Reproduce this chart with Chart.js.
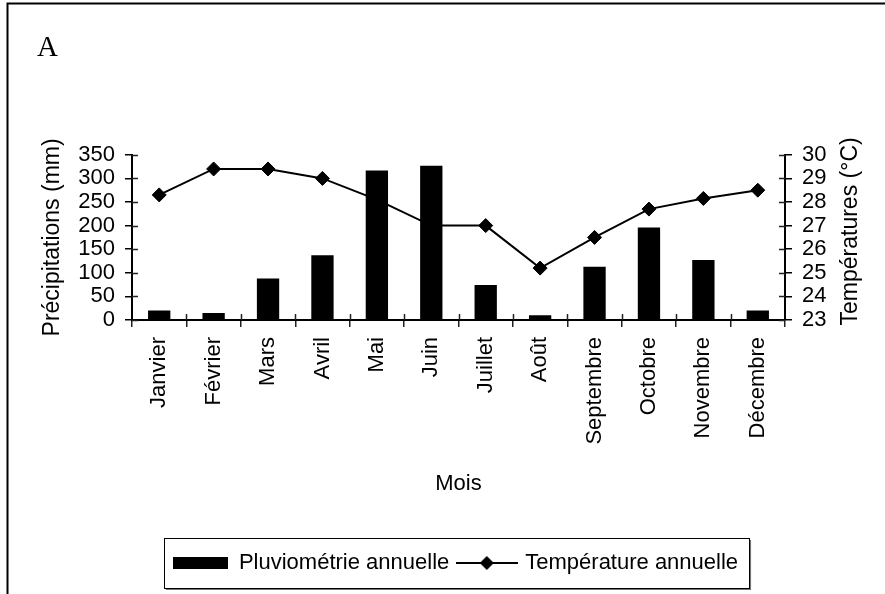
<!DOCTYPE html>
<html>
<head>
<meta charset="utf-8">
<script src="https://cdn.jsdelivr.net/npm/chart.js@4.4.0/dist/chart.umd.min.js"></script>
<style>
  html, body { margin: 0; padding: 0; background: #fff; }
</style>
</head>
<body>
<canvas id="climatGraph" width="885" height="594"></canvas>
<script>
const mois = ['Janvier', 'Février', 'Mars', 'Avril', 'Mai', 'Juin', 'Juillet', 'Août', 'Septembre', 'Octobre', 'Novembre', 'Décembre'];
const pluviometrie = [20, 15, 88, 137, 317, 327, 74, 10, 113, 196, 127, 20];
const temperature = [28.3, 29.4, 29.4, 29.0, 28.1, 27.0, 27.0, 25.2, 26.5, 27.7, 28.15, 28.5];
const pluieTicks = [0, 50, 100, 150, 200, 250, 300, 350];
const tempTicks = [23, 24, 25, 26, 27, 28, 29, 30];

const police = "'Liberation Sans', Arial, sans-serif";
const titreTemp = 'Températures (°C)';

// petits symboles pour la légende
function symbole(w, h, dessin) {
  const c = document.createElement('canvas');
  c.width = w;
  c.height = h;
  dessin(c.getContext('2d'), w, h);
  return c;
}
const symbolePluie = symbole(55, 12, (ctx, w, h) => {
  ctx.fillStyle = '#000';
  ctx.fillRect(0, 0, w, h);
});
const symboleTemp = symbole(62, 16, (ctx, w, h) => {
  ctx.strokeStyle = '#000';
  ctx.lineWidth = 2;
  ctx.beginPath();
  ctx.moveTo(0, h / 2);
  ctx.lineTo(w, h / 2);
  ctx.stroke();
  ctx.fillStyle = '#000';
  ctx.beginPath();
  ctx.moveTo(w / 2, h / 2 - 7);
  ctx.lineTo(w / 2 + 7, h / 2);
  ctx.lineTo(w / 2, h / 2 + 7);
  ctx.lineTo(w / 2 - 7, h / 2);
  ctx.closePath();
  ctx.fill();
});

// fond blanc + cadre
const cadre = {
  id: 'cadre',
  beforeDraw(chart) {
    const ctx = chart.ctx;
    ctx.save();
    ctx.fillStyle = '#fff';
    ctx.fillRect(0, 0, chart.width, chart.height);
    ctx.strokeStyle = '#000';
    ctx.lineWidth = 2;
    ctx.beginPath();
    ctx.moveTo(7.5, chart.height);
    ctx.lineTo(7.5, 3.5);
    ctx.lineTo(chart.width, 3.5);
    ctx.stroke();
    ctx.restore();
  }
};

// graduations qui traversent les axes
const graduations = {
  id: 'graduations',
  afterDatasetsDraw(chart) {
    const {ctx, chartArea, scales} = chart;
    ctx.save();
    ctx.strokeStyle = '#222';
    ctx.lineWidth = 1.5;
    ctx.beginPath();
    for (let i = 1; i < mois.length; i++) {
      const x = Math.round(scales.x.getPixelForValue(i - 0.5)) + 0.5;
      ctx.moveTo(x, chartArea.bottom);
      ctx.lineTo(x, chartArea.bottom - 6);
    }
    pluieTicks.forEach(v => {
      const y = Math.round(scales.y.getPixelForValue(v)) + 0.5;
      ctx.moveTo(chartArea.left, y);
      ctx.lineTo(chartArea.left + 6, y);
    });
    tempTicks.forEach(v => {
      const y = Math.round(scales.yTemp.getPixelForValue(v)) + 0.5;
      ctx.moveTo(chartArea.right, y);
      ctx.lineTo(chartArea.right - 6, y);
    });
    ctx.stroke();
    ctx.restore();
  }
};

// titre de l'axe de droite, lu de bas en haut comme celui de gauche
const titreDroite = {
  id: 'titreDroite',
  afterDraw(chart) {
    const s = chart.scales.yTemp;
    const ctx = chart.ctx;
    ctx.save();
    ctx.translate(s.right - 23, (s.top + s.bottom) / 2 - 6);
    ctx.rotate(-Math.PI / 2);
    ctx.font = '23px ' + police;
    ctx.fillStyle = '#000';
    ctx.textAlign = 'center';
    ctx.textBaseline = 'middle';
    ctx.fillText(titreTemp, 0, 0);
    ctx.restore();
  }
};

// encadré autour de la légende
const cadreLegende = {
  id: 'cadreLegende',
  afterDraw(chart) {
    const boxes = chart.legend.legendHitBoxes;
    if (!boxes || !boxes.length) return;
    const gauche = Math.min(...boxes.map(b => b.left)) - 9;
    const droite = Math.max(...boxes.map(b => b.left + b.width)) + 11;
    const haut = Math.min(...boxes.map(b => b.top)) - 14;
    const bas = Math.max(...boxes.map(b => b.top + b.height)) + 14;
    const ctx = chart.ctx;
    ctx.save();
    ctx.strokeStyle = '#777';
    ctx.lineWidth = 2;
    ctx.beginPath();
    ctx.moveTo(droite + 1, haut + 2);
    ctx.lineTo(droite + 1, bas + 1);
    ctx.lineTo(gauche + 2, bas + 1);
    ctx.stroke();
    ctx.strokeStyle = '#000';
    ctx.lineWidth = 1;
    ctx.strokeRect(Math.round(gauche) + 0.5, Math.round(haut) + 0.5, Math.round(droite - gauche), Math.round(bas - haut));
    ctx.restore();
  }
};

Chart.defaults.color = '#000';
Chart.defaults.font.family = police;

const climatGraph = new Chart(document.getElementById('climatGraph'), {
  data: {
    labels: mois,
    datasets: [{
      type: 'bar',
      label: 'Pluviométrie annuelle',
      data: pluviometrie,
      backgroundColor: '#000',
      borderWidth: 0,
      barPercentage: 0.41,
      categoryPercentage: 1,
      yAxisID: 'y',
      order: 0
    }, {
      type: 'line',
      label: 'Température annuelle',
      data: temperature,
      borderColor: '#000',
      borderWidth: 2,
      pointStyle: 'rectRot',
      pointRadius: 7,
      pointBackgroundColor: '#000',
      pointBorderColor: '#000',
      pointBorderWidth: 1,
      tension: 0,
      yAxisID: 'yTemp',
      order: 1
    }]
  },
  options: {
    responsive: false,
    animation: false,
    devicePixelRatio: 1,
    layout: {
      padding: { top: 20, left: 37, right: 11, bottom: 10 }
    },
    plugins: {
      title: {
        display: true,
        text: 'A',
        align: 'start',
        color: '#000',
        font: { family: "'Liberation Serif', 'Times New Roman', serif", size: 29, weight: 'normal' },
        padding: { top: 11, bottom: 89 }
      },
      legend: {
        position: 'bottom',
        labels: {
          usePointStyle: true,
          pointStyleWidth: 55,
          padding: 10,
          color: '#000',
          font: { size: 22 },
          generateLabels(chart) {
            const items = Chart.defaults.plugins.legend.labels.generateLabels(chart);
            items.forEach(item => {
              item.pointStyle = item.datasetIndex === 0 ? symbolePluie : symboleTemp;
              item.lineWidth = 0;
            });
            return items;
          }
        },
        onClick: function(event) {
          event.native && event.native.stopPropagation();
        }
      },
      tooltip: { enabled: false }
    },
    scales: {
      x: {
        grid: { display: true, offset: true, drawOnChartArea: false, tickLength: 7, color: '#222', lineWidth: 1.5 },
        border: { color: '#000', width: 2 },
        ticks: { minRotation: 90, maxRotation: 90, padding: 10, font: { size: 22 }, color: '#000', autoSkip: false },
        title: { display: true, text: 'Mois', font: { size: 22 }, color: '#000', padding: { top: 4, bottom: 45 } },
        afterFit(scale) { scale.height = 222; }
      },
      y: {
        position: 'left',
        min: pluieTicks[0],
        max: pluieTicks[pluieTicks.length - 1],
        grid: { drawOnChartArea: false, tickLength: 7, color: '#000', lineWidth: 1.5 },
        border: { color: '#000', width: 2 },
        ticks: { stepSize: pluieTicks[1] - pluieTicks[0], autoSkip: false, padding: 10, font: { size: 22 }, color: '#000' },
        title: { display: true, text: 'Précipitations (mm)', font: { size: 23 }, color: '#000', padding: { top: 2, bottom: 0 } },
        afterFit(scale) { scale.width = 95; }
      },
      yTemp: {
        position: 'right',
        min: tempTicks[0],
        max: tempTicks[tempTicks.length - 1],
        grid: { drawOnChartArea: false, tickLength: 7, color: '#000', lineWidth: 1.5 },
        border: { color: '#000', width: 2 },
        ticks: { stepSize: 1, autoSkip: false, padding: 10, font: { size: 22 }, color: '#000' },
        title: { display: false },
        afterFit(scale) { scale.width = 89; }
      }
    }
  },
  plugins: [cadre, graduations, titreDroite, cadreLegende]
});
</script>
</body>
</html>
